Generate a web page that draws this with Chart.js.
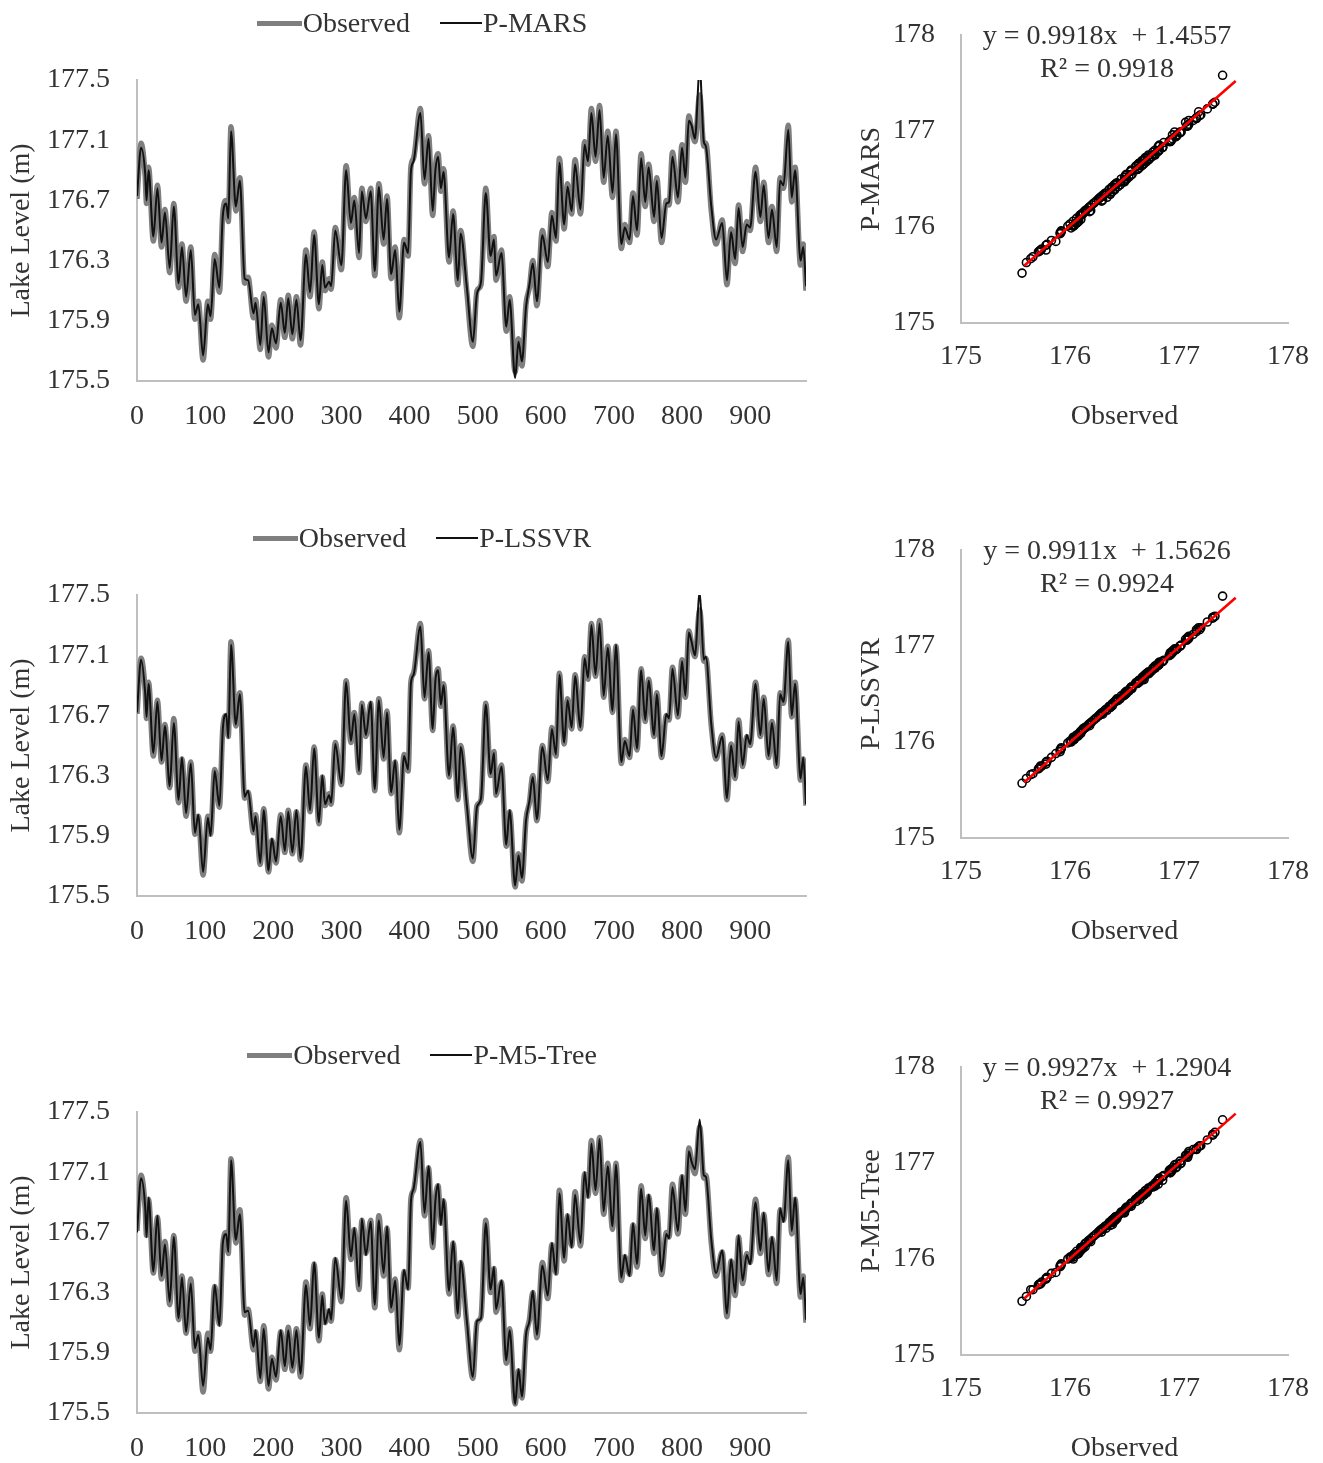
<!DOCTYPE html>
<html>
<head>
<meta charset="utf-8">
<title>Lake level: observed vs predicted</title>
<script src="https://cdn.jsdelivr.net/npm/chart.js@4.4.1/dist/chart.umd.min.js"></script>
<style>
  body { margin:0; background:#fff; width:1323px; height:1463px; position:relative; overflow:hidden;
         font-family:'Liberation Serif','Times New Roman',serif; color:#333; }
  .abs { position:absolute; }
  .legend { position:absolute; left:0; width:844px; height:34px; display:flex; justify-content:center;
            align-items:center; font-size:28px; white-space:nowrap; }
  .swatch { display:inline-block; margin-right:1px; }
  .eq { position:absolute; width:400px; text-align:center; font-size:28px; line-height:33px; white-space:nowrap; }
</style>
</head>
<body>
<div id="root"></div>
<script>
/* ── data ── */
const X_TICKS = [0,100,200,300,400,500,600,700,800,900];
const LEVEL_TICKS = [175.5,175.9,176.3,176.7,177.1,177.5];
const SCATTER_TICKS = [175,176,177,178];

const DAYS = [0,6,12,14,17,24,30,36,41,48, 54,61,66,72,79,85,90,97,104,108,
  114,121,126,131,134,138,145,151,158,163, 171,174,181,186,193,198,204,211,217,222,
  228,234,240,248,254,260,267,272,276,282, 285,291,300,307,314,319,326,330,336,343,
  349,355,362,367,373,379,385,392,398,402, 406,416,422,428,434,438,442,446,450,458,
  464,471,475,484,493,499,505,512,519,524, 527,535,542,547,555,560,565,571,576,581,
  587,595,603,609,615,620,627,632,638,643, 651,657,662,667,673,679,685,691,698,703,
  711,716,723,728,734,740,746,751,759,763, 770,777,781,786,794,800,805,810,814,819,
  826,832,835,843,850,859,866,872,878,883, 889,895,900,908,915,920,927,932,939,944,
  949,956,961,966,974,978,982];

const OBSERVED = [176.71,177.08,176.86,176.68,176.92,176.43,176.80,176.39,176.64,176.22,
  176.68,176.12,176.41,176.03,176.39,175.91,176.03,175.64,176.03,175.91,
  176.34,176.09,176.62,176.70,176.56,177.19,176.63,176.85,176.15,176.19,
  175.92,176.04,175.71,176.08,175.66,175.87,175.72,176.04,175.79,176.07,
  175.78,176.06,175.74,176.37,176.06,176.49,175.98,176.29,176.10,176.18,
  176.11,176.52,176.24,176.93,176.52,176.72,176.32,176.78,176.56,176.78,
  176.20,176.81,176.41,176.73,176.18,176.39,175.92,176.44,176.33,176.92,
  176.98,177.31,176.81,177.13,176.60,176.92,177.01,176.76,176.91,176.29,
  176.63,176.14,176.50,176.10,175.73,176.10,176.14,176.78,176.30,176.46,
  176.17,176.37,175.83,176.06,175.56,175.78,175.60,176.01,176.12,176.30,
  176.00,176.50,176.26,176.62,176.43,176.98,176.51,176.81,176.61,176.97,
  176.61,177.09,176.94,177.31,176.96,177.33,176.82,177.16,176.72,177.16,
  176.38,176.54,176.42,176.75,176.47,177.01,176.66,176.94,176.56,176.85,
  176.42,176.70,176.67,177.02,176.69,177.07,176.82,177.26,177.18,177.09,
  177.40,177.06,177.08,176.63,176.41,176.57,176.14,176.51,176.28,176.67,
  176.36,176.56,176.50,176.92,176.56,176.82,176.42,176.66,176.36,176.85,
  176.78,177.20,176.69,176.92,176.27,176.41,176.10];

const P_MARS = [176.73,177.05,176.88,176.70,176.90,176.46,176.78,176.42,176.62,176.25,
  176.66,176.15,176.39,176.06,176.37,175.94,176.01,175.67,176.01,175.93,
  176.31,176.12,176.60,176.68,176.58,177.16,176.66,176.83,176.18,176.17,
  175.95,176.02,175.74,176.06,175.69,175.85,175.75,176.02,175.82,176.05,
  175.81,176.04,175.77,176.34,176.09,176.47,176.01,176.27,176.12,176.16,
  176.13,176.50,176.27,176.90,176.55,176.70,176.35,176.76,176.58,176.76,
  176.23,176.79,176.44,176.71,176.21,176.37,175.96,176.42,176.35,176.89,
  176.96,177.28,176.84,177.11,176.63,176.90,176.99,176.78,176.89,176.32,
  176.61,176.17,176.48,176.13,175.76,176.08,176.16,176.75,176.33,176.44,
  176.20,176.35,175.86,176.04,175.52,175.76,175.63,175.99,176.14,176.28,
  176.03,176.47,176.29,176.60,176.45,176.95,176.54,176.79,176.63,176.94,
  176.64,177.07,176.96,177.28,176.99,177.30,176.85,177.13,176.75,177.14,
  176.41,176.52,176.44,176.73,176.50,176.98,176.69,176.92,176.59,176.83,
  176.45,176.68,176.69,176.99,176.72,177.05,176.85,177.23,177.20,177.11,
  177.58,177.09,177.06,176.66,176.44,176.55,176.17,176.49,176.31,176.65,
  176.39,176.54,176.52,176.89,176.59,176.80,176.45,176.64,176.39,176.83,
  176.80,177.17,176.72,176.90,176.30,176.39,176.13];

const P_LSSVR = [176.72,177.07,176.85,176.69,176.91,176.45,176.79,176.40,176.63,176.23,
  176.65,176.14,176.42,176.05,176.38,175.92,176.04,175.66,176.02,175.90,
  176.33,176.10,176.61,176.71,176.55,177.17,176.64,176.84,176.16,176.20,
  175.93,176.03,175.72,176.07,175.67,175.88,175.73,176.03,175.80,176.06,
  175.79,176.07,175.75,176.36,176.07,176.48,175.99,176.30,176.11,176.17,
  176.12,176.51,176.25,176.92,176.53,176.71,176.33,176.77,176.57,176.79,
  176.21,176.80,176.42,176.72,176.19,176.40,175.94,176.43,176.34,176.91,
  176.97,177.29,176.82,177.12,176.61,176.93,177.00,176.77,176.90,176.30,
  176.62,176.15,176.49,176.11,175.75,176.09,176.15,176.77,176.31,176.45,
  176.18,176.36,175.84,176.07,175.57,175.77,175.62,176.00,176.13,176.29,
  176.01,176.49,176.27,176.61,176.44,176.97,176.52,176.80,176.62,176.96,
  176.62,177.08,176.95,177.30,176.97,177.31,176.83,177.15,176.73,177.17,
  176.39,176.53,176.43,176.74,176.48,177.00,176.67,176.93,176.57,176.84,
  176.43,176.71,176.68,177.01,176.70,177.06,176.83,177.25,177.19,177.10,
  177.52,177.07,177.09,176.64,176.42,176.56,176.15,176.50,176.29,176.66,
  176.37,176.57,176.51,176.91,176.57,176.81,176.43,176.65,176.37,176.84,
  176.79,177.19,176.70,176.91,176.28,176.42,176.11];

const P_M5TREE = [176.70,177.06,176.87,176.67,176.93,176.44,176.81,176.41,176.62,176.24,
  176.67,176.13,176.40,176.04,176.36,175.93,176.02,175.68,176.00,175.92,
  176.35,176.08,176.63,176.69,176.57,177.18,176.65,176.82,176.17,176.18,
  175.94,176.05,175.73,176.06,175.68,175.86,175.74,176.05,175.81,176.05,
  175.80,176.05,175.76,176.35,176.08,176.50,176.00,176.28,176.09,176.19,
  176.12,176.53,176.26,176.91,176.54,176.73,176.34,176.79,176.55,176.77,
  176.22,176.78,176.43,176.74,176.20,176.38,175.95,176.45,176.32,176.90,
  176.99,177.30,176.83,177.14,176.62,176.91,177.02,176.75,176.92,176.31,
  176.64,176.16,176.51,176.12,175.74,176.11,176.13,176.76,176.32,176.47,
  176.19,176.38,175.85,176.05,175.56,175.79,175.61,176.02,176.11,176.31,
  176.02,176.48,176.28,176.63,176.42,176.96,176.53,176.82,176.60,176.95,
  176.63,177.10,176.93,177.29,176.98,177.32,176.84,177.14,176.74,177.15,
  176.40,176.55,176.41,176.76,176.49,176.99,176.68,176.95,176.58,176.86,
  176.44,176.69,176.66,177.00,176.71,177.08,176.84,177.24,177.17,177.12,
  177.45,177.08,177.07,176.65,176.43,176.58,176.16,176.52,176.30,176.68,
  176.38,176.55,176.49,176.90,176.58,176.83,176.44,176.67,176.38,176.86,
  176.77,177.18,176.71,176.93,176.29,176.40,176.12];

const MODEL_NAMES = ['P-MARS','P-LSSVR','P-M5-Tree'];
const MODEL_PRED  = [P_MARS, P_LSSVR, P_M5TREE];
const SLOPES      = [0.9918, 0.9911, 0.9927];
const INTERCEPTS  = [1.4557, 1.5626, 1.2904];
const R_SQUARED   = [0.9918, 0.9924, 0.9927];
const TREND_RANGE = [175.58, 177.52];

/* ── styling ── */
const ROW_TOP = [0, 515, 1032];
const FONT = { family:"'Liberation Serif','Times New Roman',serif", size:28 };
const TEXT = '#333333';
const AXIS = '#bfbfbf';
const OBS_GREY = '#7f7f7f';

const fixedTicks = list => s => { s.ticks = list.map(v => ({ value:v })); };
// fixed box size, and no extra label overflow padding pushing the plot area around
const fixBox = (w, h) => s => {
  if (w) s.width = w;
  if (h) s.height = h;
  s.paddingTop = s.paddingBottom = s.paddingLeft = s.paddingRight = 0;
};

function axis(extra) {
  return Object.assign({
    type:'linear',
    grid:{ display:false, drawTicks:false },
    border:{ display:true, color:AXIS, width:2 },
  }, extra);
}

/* ── time series (left) ── */
function buildSeriesChart(canvas, pred, name) {
  new Chart(canvas.getContext('2d'), {
    type:'line',
    data:{ datasets:[
      { label:name, data:DAYS.map((d,i)=>({x:d, y:pred[i]})), borderColor:'#111', borderWidth:2, order:0 },
      { label:'Observed', data:DAYS.map((d,i)=>({x:d, y:OBSERVED[i]})), borderColor:OBS_GREY, borderWidth:5.5, order:1 }
    ]},
    options:{
      responsive:false, animation:false,
      layout:{ padding:{ top:80, right:14, left:0, bottom:0 } },
      elements:{ point:{ radius:0 }, line:{ cubicInterpolationMode:'monotone', fill:false } },
      plugins:{ legend:{ display:false }, tooltip:{ enabled:false } },
      scales:{
        x: axis({ min:0, max:982, afterBuildTicks:fixedTicks(X_TICKS), afterFit:fixBox(0, 69),
                  ticks:{ color:TEXT, font:FONT, padding:19, maxRotation:0, autoSkip:false } }),
        y: axis({ min:175.5, max:177.5, afterBuildTicks:fixedTicks(LEVEL_TICKS), afterFit:fixBox(137, 0),
                  ticks:{ color:TEXT, font:FONT, padding:27, callback:v=>v.toFixed(1) },
                  title:{ display:true, text:'Lake Level (m)', color:TEXT, font:FONT, padding:{ top:5, bottom:0 } } })
      }
    }
  });
}

/* ── observed vs predicted scatter (right) ── */
function buildScatterChart(canvas, k) {
  const pred = MODEL_PRED[k];
  new Chart(canvas.getContext('2d'), {
    type:'scatter',
    data:{ datasets:[
      { data:TREND_RANGE.map(x=>({ x, y:SLOPES[k]*x + INTERCEPTS[k] })), showLine:true,
        borderColor:'#ff0000', borderWidth:2.6, pointRadius:0, order:0 },
      { data:OBSERVED.map((o,i)=>({ x:o, y:pred[i] })), pointRadius:4, borderWidth:1.6,
        borderColor:'#000', backgroundColor:'rgba(255,255,255,0)', order:1 }
    ]},
    options:{
      responsive:false, animation:false,
      layout:{ padding:{ top:35, right:35, left:0, bottom:0 } },
      plugins:{ legend:{ display:false }, tooltip:{ enabled:false } },
      scales:{
        x: axis({ min:175, max:178, afterBuildTicks:fixedTicks(SCATTER_TICKS), afterFit:fixBox(0, 127),
                  ticks:{ color:TEXT, font:FONT, padding:17, maxRotation:0 },
                  title:{ display:true, text:'Observed', color:TEXT, font:FONT, padding:{ top:0, bottom:17 } } }),
        y: axis({ min:175, max:178, afterBuildTicks:fixedTicks(SCATTER_TICKS), afterFit:fixBox(111, 0),
                  ticks:{ color:TEXT, font:FONT, padding:26 },
                  title:{ display:true, text:MODEL_NAMES[k], color:TEXT, font:FONT, padding:{ top:5, bottom:0 } } })
      }
    }
  });
}

function makeCanvas(left, top, w, h) {
  const c = document.createElement('canvas');
  c.width = w; c.height = h;
  c.className = 'abs';
  c.style.left = left + 'px'; c.style.top = top + 'px';
  document.getElementById('root').appendChild(c);
  return c;
}

function addLegend(top, name) {
  const d = document.createElement('div');
  d.className = 'legend';
  d.style.top = (top + 6) + 'px';
  d.innerHTML =
    `<span class="swatch" style="width:45px;height:5px;background:${OBS_GREY}"></span>Observed` +
    `<span class="swatch" style="width:42px;height:1.5px;background:#111;margin-left:30px"></span>${name}`;
  document.getElementById('root').appendChild(d);
}

function addEquation(top, k) {
  const d = document.createElement('div');
  d.className = 'eq';
  d.style.left = '907px';
  d.style.top = (top + 18) + 'px';
  d.innerHTML = `y = ${SLOPES[k].toFixed(4)}x&nbsp; + ${INTERCEPTS[k].toFixed(4)}<br>R² = ${R_SQUARED[k].toFixed(4)}`;
  document.getElementById('root').appendChild(d);
}

window.addEventListener('DOMContentLoaded', () => {
  MODEL_NAMES.forEach((name, k) => {
    const top = ROW_TOP[k];
    buildSeriesChart(makeCanvas(0, top, 820, 450), MODEL_PRED[k], name);
    buildScatterChart(makeCanvas(850, top, 473, 450), k);
    addLegend(top, name);
    addEquation(top, k);
  });
});
</script>
</body>
</html>
